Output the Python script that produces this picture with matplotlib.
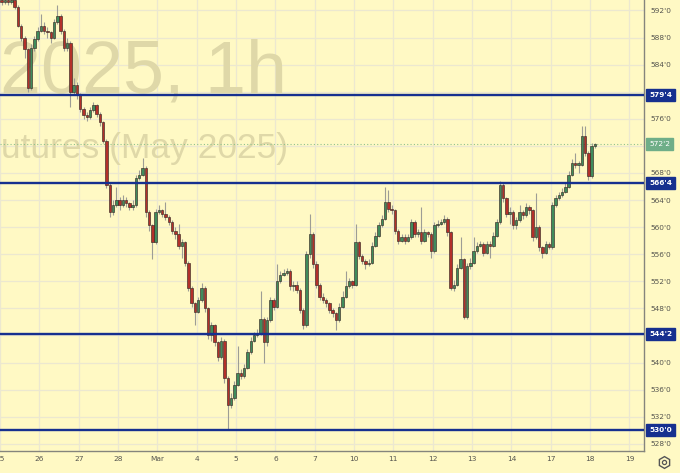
import matplotlib
matplotlib.use("Agg")
import matplotlib.pyplot as plt
from matplotlib.lines import Line2D
import numpy as np

# ---------------- data ----------------
first_open = 593.5
closes = [
    593.25, 593.5, 593.25, 593.5, 592.5, 589.75, 588, 586.25, 580.5, 586.5,
    587.75, 589, 589.75, 589, 588.75, 588, 590.25, 591.25, 589, 586.5,
    587.25, 580, 581, 579.5, 577.5, 576.5, 576.25, 577.25, 578, 576.75,
    575.5, 572.75, 566.25, 562.25, 563.25, 564, 563.25, 564, 563.5, 563,
    563.25, 567.25, 567.75, 568.75, 562.25, 560.25, 557.75, 562.25, 562.5, 562,
    561.5, 560.75, 559.5, 559, 557.25, 557.75, 554.75, 551, 548.75, 547.5,
    549.25, 551, 548, 544, 545.5, 543, 540.75, 543.25, 537.75, 533.75,
    534.75, 536.75, 538.5, 538, 539.25, 541.5, 543.25, 544, 544.25, 546.5,
    543, 546.25, 549.25, 548.25, 552, 553, 553.25, 553.5, 551.25, 551.5,
    550.75, 547.75, 545.5, 556, 559, 554.5, 551.5, 549.75, 549.25, 548.75,
    547.75, 547.25, 546.25, 548.25, 549.75, 551.25, 552, 551.5, 557.75, 555.75,
    555, 554.5, 554.75, 557.25, 558.75, 560.25, 561.25, 563.75, 562.75, 562.5,
    559.5, 558, 558.5, 558, 558.5, 560.75, 559, 559.25, 558, 559.25,
    559, 556.5, 560.25, 560.5, 560.75, 561.25, 559.25, 551, 551.5, 554,
    555.25, 546.75, 554.25, 554.75, 556.5, 557.25, 557.5, 556.25, 557.5, 557.25,
    558.75, 560.75, 566.25, 564.25, 562, 562.25, 560.25, 561, 562.25, 561.75,
    563, 562.5, 558.5, 560, 557, 556.25, 557.5, 557, 563.25, 564.25,
    564.75, 565.25, 566, 567.75, 569.5, 569.25, 569.25, 573.5, 571, 567.5,
    572, 572.25,
]
highs = [
    594, 594, 593.75, 594, 593.75, 592.75, 590, 588.25, 586.5, 587,
    588.25, 589.5, 591.5, 590.25, 589.5, 589, 590.75, 592.75, 591.5, 589.25,
    588, 587.5, 582, 581.5, 579.75, 577.75, 577, 577.75, 578.5, 578.25,
    577, 575.75, 573, 566.5, 564, 566, 564.5, 564.75, 564.5, 563.75,
    564, 567.75, 568.5, 570.25, 569, 562.5, 560.5, 562.75, 563.25, 562.75,
    563.75, 561.75, 561, 560, 560.5, 558.25, 558, 555, 551.25, 549,
    549.75, 551.75, 551.25, 548.25, 546, 545.75, 543.25, 543.75, 543.5, 538,
    535.5, 537.25, 542.5, 539, 539.75, 542, 543.75, 544.5, 545, 550.5,
    546.75, 546.75, 549.75, 549.5, 554.5, 553.5, 553.75, 554, 553.75, 552,
    552, 551, 548, 556.5, 562, 559.25, 555, 551.75, 550.25, 549.5,
    549, 548, 547.5, 548.75, 550.5, 553.5, 552.5, 552.25, 560.5, 558,
    556, 555.25, 555.25, 557.75, 559.25, 560.75, 561.75, 566, 565.5, 563.25,
    562.75, 559.75, 559, 559, 559, 561.25, 561, 559.75, 563, 559.75,
    559.5, 559.25, 560.75, 561, 561.25, 561.75, 561.5, 559.5, 552.25, 554.5,
    558.5, 555.5, 554.75, 555.5, 558.5, 557.75, 558, 557.75, 558, 558,
    559.25, 561.25, 566.75, 566.5, 564.5, 563, 562.5, 561.5, 563.25, 562.5,
    563.5, 563.25, 562.75, 565, 560.25, 557.25, 558, 557.75, 563.75, 564.75,
    565.25, 565.75, 566.5, 568.25, 570, 571, 569.75, 575, 575, 571.25,
    572.5, 572.5,
]
lows = [
    592.75, 593, 592.75, 593, 592.25, 589.5, 587.5, 585, 580, 580.25,
    586, 587.5, 588.75, 588.5, 588, 587.25, 587.75, 590, 588.5, 586,
    586, 577.75, 579.5, 579, 577, 576, 575.75, 576, 577, 576.25,
    575, 572.5, 565.75, 561.5, 561.75, 563, 562.5, 563, 563, 562.5,
    562.5, 563, 567, 567.5, 561.5, 559.5, 555.25, 557.5, 562, 561.5,
    561, 560.25, 559, 558.25, 556.75, 555.5, 554.25, 550.5, 548.25, 545.5,
    547.25, 549, 547.5, 543.5, 543.25, 542.5, 540.25, 540.5, 537, 530,
    533.25, 534.5, 536.5, 537.5, 537.75, 539, 541.25, 543, 543.75, 544,
    540, 542.5, 546, 547.75, 548, 551.75, 552.75, 553, 550.75, 550.5,
    550.25, 547.25, 545, 545.25, 555.5, 554, 551, 549.25, 548.75, 548.25,
    547.25, 546.75, 544.75, 546, 548, 549.5, 551, 551, 551.25, 555.25,
    554.5, 553.75, 554.25, 554.5, 557, 558.5, 560, 561, 562.25, 562,
    559, 557.5, 557.75, 557.5, 557.75, 558.25, 558.5, 558.5, 557.5, 557.75,
    558.5, 555.5, 556.25, 560, 560.25, 560.5, 558.75, 550.75, 550.5, 551.25,
    553.75, 546.5, 546.5, 553.75, 554.5, 556.25, 557, 555.75, 556, 555.5,
    557, 558.5, 560.5, 563.75, 561.5, 560.5, 559.75, 559.75, 560.75, 561.25,
    561.5, 562, 558, 558.25, 556.5, 555.5, 556, 556.75, 556.75, 563,
    564, 564.5, 565, 565.75, 567.5, 568.75, 568, 569, 570.5, 567,
    567.25, 571.75,
]
bars_per_day = 12
first_bar_offset = 0.04
day_labels = ["25", "26", "27", "28", "Mar", "4", "5", "6", "7", "10",
              "11", "12", "13", "14", "17", "18", "19"]
price_ticks = list(range(528, 593, 4))
level_prices = [579.5, 566.5, 544.25, 530.0]
level_labels = ["579'4", "566'4", "544'2", "530'0"]
last_price = 572.25
last_label = "572'2"
watermark_lines = ["2025, 1h", "utures (May 2025)"]

# tick labels hidden behind the price boxes on the scale
covered = level_prices + [last_price]
price_tick_labels = ["" if min(abs(p - q) for q in covered) < 1.0 else f"{p}'0"
                     for p in price_ticks]

# ---------------- style ----------------
BG = "#fff9c4"
GRID = "#ece8d0"
BLUE = "#16308f"
UP = "#3f8b5c"
DOWN = "#b3302a"
EDGE = "#3a2c26"
WICK = "#9d9d95"
WM = "#dfd8a8"
AXC = "#55554f"

W, H = 680, 473
fig = plt.figure(figsize=(W / 100, H / 100), dpi=100, facecolor=BG)
ax = fig.add_axes([0, 22 / H, 644 / W, 451 / H], facecolor=BG)

opens = np.array([first_open] + closes[:-1])
c = np.array(closes)
hi = np.array(highs)
lo = np.array(lows)
n = len(c)
x = first_bar_offset + np.arange(n) / bars_per_day

# watermark
ax.text(287 / 644, (451 - 93) / 451, watermark_lines[0], transform=ax.transAxes,
        ha="right", va="baseline", fontsize=53, color=WM,
        family=["Liberation Sans", "DejaVu Sans"], zorder=1)
ax.text(288 / 644, (451 - 158) / 451, watermark_lines[1], transform=ax.transAxes,
        ha="right", va="baseline", fontsize=25.5, color=WM,
        family=["Liberation Sans", "DejaVu Sans"], zorder=1)

# candles
up = c >= opens
ax.vlines(x, lo, hi, color=WICK, lw=0.8, zorder=3)
body_h = np.maximum(np.abs(c - opens), 0.15)
body_b = np.minimum(c, opens)
ax.bar(x[up], body_h[up], bottom=body_b[up], width=0.062, color=UP,
       edgecolor=EDGE, linewidth=0.45, zorder=4)
ax.bar(x[~up], body_h[~up], bottom=body_b[~up], width=0.062, color=DOWN,
       edgecolor=EDGE, linewidth=0.45, zorder=4)

# levels
for p, lab in zip(level_prices, level_labels):
    ax.axhline(p, color=BLUE, lw=1.7, zorder=5)
    ax.annotate(lab, xy=(1, p), xycoords=ax.get_yaxis_transform(),
                xytext=(3.6, 0), textcoords="offset points", ha="left", va="center",
                color="white", fontsize=5.3, fontweight="bold",
                bbox=dict(boxstyle="square,pad=0.42", fc=BLUE, ec=BLUE),
                annotation_clip=False, zorder=10)

ax.axhline(last_price, color="#8fc28f", ls=(0, (1, 2)), lw=0.8, zorder=2)
ax.annotate(last_label, xy=(1, last_price), xycoords=ax.get_yaxis_transform(),
            xytext=(3.6, 0), textcoords="offset points", ha="left", va="center",
            color="white", fontsize=5.3,
            bbox=dict(boxstyle="square,pad=0.42", fc="#6fae88", ec="#6fae88"),
            annotation_clip=False, zorder=10)

# axes
ax.set_xlim(1 / 39.4, 645 / 39.4)
ax.set_ylim(593.55 - 451 / 6.77, 593.55)
ax.set_xticks(range(len(day_labels)))
ax.set_xticklabels(day_labels)
ax.yaxis.tick_right()
ax.set_yticks(price_ticks)
ax.set_yticklabels(price_tick_labels)
ax.tick_params(axis="y", length=0, pad=5, labelsize=5.3, labelcolor=AXC)
ax.tick_params(axis="x", length=0, pad=3.5, labelsize=5.3, labelcolor=AXC)
ax.grid(True, color=GRID, lw=0.9, zorder=0)
ax.set_axisbelow(True)
for s in ("left", "top"):
    ax.spines[s].set_visible(False)
for s in ("right", "bottom"):
    ax.spines[s].set_color("#85857d")
    ax.spines[s].set_linewidth(1.0)

# settings icon
fig.add_artist(Line2D([664 / W], [(H - 462) / H], marker="h", ms=8.5, mfc="none",
                      mec="#555555", mew=1.0, transform=fig.transFigure))
fig.add_artist(Line2D([664 / W], [(H - 462) / H], marker="o", ms=3, mfc="none",
                      mec="#555555", mew=0.9, transform=fig.transFigure))

fig.savefig("out.png", dpi=100, facecolor=BG)
